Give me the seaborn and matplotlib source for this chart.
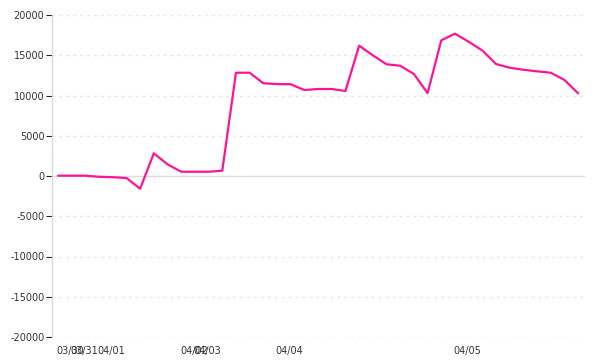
import matplotlib
matplotlib.use("Agg")
import matplotlib.pyplot as plt
import seaborn as sns
import pandas as pd
import numpy as np

# ---- data ----
values = [40, 40, 40, -100, -150, -250, -1580, 2820, 1450, 530,
          530, 530, 660, 12830, 12830, 11520, 11420, 11400, 10680, 10810,
          10810, 10560, 16190, 14990, 13880, 13700, 12670, 10300, 16850, 17680,
          16680, 15590, 13910, 13450, 13200, 13000, 12830, 11930, 10270]
tick_index = [0, 1, 3, 9, 10, 16, 29]
tick_labels = ["03/30", "03/31", "04/01", "04/02", "04/03", "04/04", "04/05"]
y_ticks = [-20000, -15000, -10000, -5000, 0, 5000, 10000, 15000, 20000]

df = pd.DataFrame({"idx": np.arange(len(values)), "value": values})

sns.set_style("white")
plt.rcParams['font.family'] = ['DejaVu Sans']

fig = plt.figure(figsize=(6, 3.6), dpi=100)
ax = fig.add_axes([52/600, 1 - 337/360, (585 - 52)/600, (337 - 15)/360])

# grid lines
for yv in y_ticks:
    if yv == 0:
        ax.axhline(yv, color="#dcdcdc", lw=1.0, zorder=1)
    else:
        ax.axhline(yv, color="#e6e6e6", lw=1.0, ls=(0, (2, 3)), zorder=1)

sns.lineplot(data=df, x="idx", y="value", ax=ax, color="#ff1493",
             linewidth=1.6, zorder=3)

ax.set_xlim(-0.44, 38.5)
ax.set_ylim(-20000, 20000)
ax.set_yticks(y_ticks)
ax.set_yticklabels([str(v) for v in y_ticks])
ax.set_xticks(tick_index)
ax.set_xticklabels(tick_labels, ha="left")
for lbl in ax.get_xticklabels():
    lbl.set_x(lbl.get_position()[0])
ax.set_xlabel("")
ax.set_ylabel("")

for s in ["top", "right", "bottom"]:
    ax.spines[s].set_visible(False)
ax.spines["left"].set_color("#d8d8d8")
ax.spines["left"].set_linewidth(1.0)

ax.tick_params(axis="y", which="both", left=True, length=4.5, width=0.8,
               color="#222222", pad=1, labelsize=7, labelcolor="#333333")
ax.tick_params(axis="x", which="both", bottom=False, length=0, pad=6.5,
               labelsize=7, labelcolor="#333333")

# shift x labels slightly left so they start at the point
import matplotlib.transforms as mtransforms
offset = mtransforms.ScaledTranslation(-1.3/100, 0, fig.dpi_scale_trans)
for lbl in ax.get_xticklabels():
    lbl.set_transform(lbl.get_transform() + offset)

fig.savefig("out.png", dpi=100)
